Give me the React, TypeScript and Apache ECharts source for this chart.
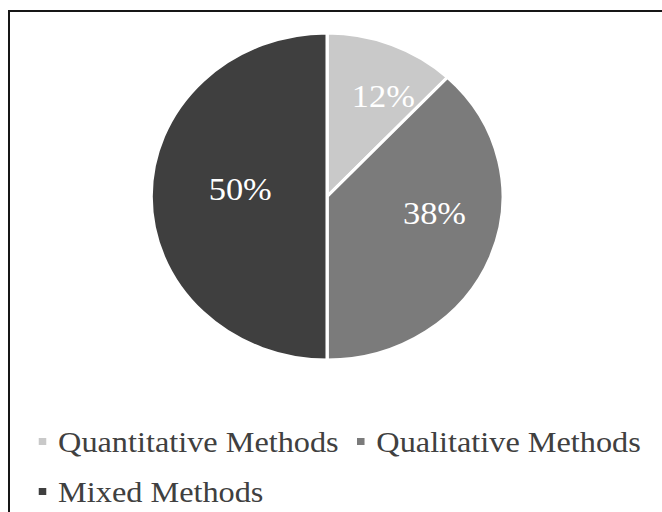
import React, { useEffect, useRef } from "react";
import * as echarts from "echarts";

const categories = ["Quantitative Methods", "Qualitative Methods", "Mixed Methods"];
const shares = [12, 38, 50];
const sliceColors = ["#c9c9c9", "#7b7b7b", "#3f3f3f"];
const labelNudges = [
  [21, -22],
  [21, -15],
  [4, -8],
];

const PAGE_W = 662;
const PAGE_H = 512;
const STRETCH = 1.076;
const CHART_W = Math.round(PAGE_W / STRETCH);

export default function App() {
  const ref = useRef<HTMLDivElement>(null);

  useEffect(() => {
    if (!ref.current) return;
    const chart = echarts.init(ref.current, null, { renderer: "svg" });
    chart.setOption({
      animation: false,
      backgroundColor: "transparent",
      color: sliceColors,
      legend: {
        show: true,
        orient: "horizontal",
        left: 34,
        top: 424,
        width: 575,
        padding: 0,
        itemGap: 15,
        itemWidth: 9,
        itemHeight: 9,
        icon: "rect",
        selectedMode: false,
        data: categories,
        textStyle: {
          fontFamily: "Liberation Serif",
          fontSize: 30,
          color: "#404040",
          lineHeight: 35,
          padding: [0, 0, 0, 5],
        },
      },
      series: [
        {
          type: "pie",
          center: [304, 196.5],
          radius: 163.5,
          startAngle: 90,
          clockwise: true,
          silent: true,
          avoidLabelOverlap: false,
          itemStyle: { borderColor: "#ffffff", borderWidth: 3 },
          label: {
            show: true,
            position: "inside",
            formatter: "{c}%",
            color: "#ffffff",
            fontFamily: "Liberation Serif",
            fontSize: 32,
          },
          labelLine: { show: false },
          labelLayout: (params: any) => ({
            dx: labelNudges[params.dataIndex][0],
            dy: labelNudges[params.dataIndex][1],
          }),
          emphasis: { disabled: true },
          data: categories.map((name, i) => ({ name, value: shares[i] })),
        },
      ],
    });
    return () => chart.dispose();
  }, []);

  return (
    <div
      style={{
        position: "fixed",
        left: 0,
        top: 0,
        width: PAGE_W,
        height: PAGE_H,
        overflow: "hidden",
        background: "#ffffff",
      }}
    >
      <div
        style={{
          position: "absolute",
          left: 8,
          top: 10,
          width: 720,
          height: 600,
          border: "2px solid #161616",
          boxSizing: "border-box",
        }}
      />
      <div
        ref={ref}
        style={{
          position: "absolute",
          left: 0,
          top: 0,
          width: CHART_W,
          height: PAGE_H,
          transform: `scaleX(${STRETCH})`,
          transformOrigin: "0 0",
        }}
      />
    </div>
  );
}
